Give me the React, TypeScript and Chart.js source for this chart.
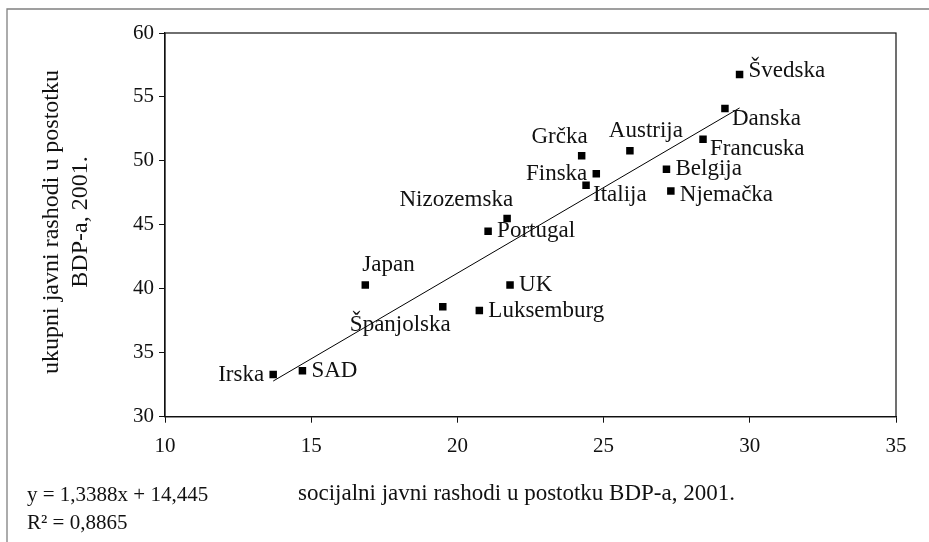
import React, { useEffect, useRef } from "react";
import { Chart, registerables } from "chart.js";

Chart.register(...registerables);

// ---- data ----
const countries = [
  "Irska", "SAD", "Japan", "Španjolska", "Luksemburg", "UK", "Portugal",
  "Nizozemska", "Finska", "Italija", "Grčka", "Austrija", "Švedska",
  "Danska", "Francuska", "Belgija", "Njemačka",
];
const socialSpending = [
  13.7, 14.7, 16.85, 19.5, 20.75, 21.8, 21.05,
  21.7, 24.75, 24.4, 24.25, 25.9, 29.65,
  29.15, 28.4, 27.15, 27.3,
];
const totalSpending = [
  33.3, 33.6, 40.3, 38.6, 38.3, 40.3, 44.5,
  45.5, 49.0, 48.1, 50.4, 50.8, 56.75,
  54.1, 51.7, 49.35, 47.65,
];
const labelPlacement = [
  "left", "right", "above", "belowLeft", "right", "right", "right",
  "aboveLeft", "left", "belowRight", "aboveLeft", "aboveCenter", "rightUp",
  "belowRight", "belowRight", "right", "rightDown",
];
const xTickMin = 10;
const xTickMax = 35;
const yTickMin = 30;
const yTickMax = 60;
const tickStep = 5;
const trendSlope = 1.3388;
const trendIntercept = 14.445;
const equationText = "y = 1,3388x + 14,445";
const r2Text = "R² = 0,8865";
const xTitle = "socijalni javni rashodi u postotku BDP-a, 2001.";
const yTitleLines = ["ukupni javni rashodi u postotku", "BDP-a, 2001."];

const FONT = '"Liberation Serif", "Times New Roman", serif';

const placementStyle: Record<string, { dx: number; dy: number; align: CanvasTextAlign }> = {
  right: { dx: 9, dy: 0, align: "left" },
  rightUp: { dx: 9, dy: -4, align: "left" },
  rightDown: { dx: 9, dy: 4, align: "left" },
  left: { dx: -9, dy: 0, align: "right" },
  above: { dx: -3, dy: -20, align: "left" },
  aboveLeft: { dx: 6, dy: -19, align: "right" },
  aboveCenter: { dx: 16, dy: -20, align: "center" },
  belowLeft: { dx: 8, dy: 18, align: "right" },
  belowRight: { dx: 7, dy: 10, align: "left" },
};

const overlayPlugin = {
  id: "overlay",
  beforeDraw(chart: any) {
    const ctx = chart.ctx;
    ctx.save();
    ctx.fillStyle = "#fff";
    ctx.fillRect(0, 0, chart.width, chart.height);
    ctx.strokeStyle = "#808080";
    ctx.lineWidth = 1.3;
    ctx.beginPath();
    ctx.moveTo(7, chart.height);
    ctx.lineTo(7, 9);
    ctx.lineTo(chart.width, 9);
    ctx.stroke();
    ctx.restore();
  },
  afterDatasetsDraw(chart: any) {
    const ctx = chart.ctx;
    const meta = chart.getDatasetMeta(0);
    ctx.save();
    ctx.font = `23px ${FONT}`;
    ctx.fillStyle = "#111";
    ctx.textBaseline = "middle";
    meta.data.forEach((pt: any, i: number) => {
      const p = placementStyle[labelPlacement[i]] || placementStyle.right;
      ctx.textAlign = p.align;
      ctx.fillText(countries[i], pt.x + p.dx, pt.y + p.dy);
    });
    ctx.restore();
  },
  afterDraw(chart: any) {
    const ctx = chart.ctx;
    const a = chart.chartArea;
    ctx.save();
    ctx.strokeStyle = "#111";
    ctx.lineWidth = 1.2;
    ctx.strokeRect(a.left, a.top, a.right - a.left, a.bottom - a.top);

    ctx.fillStyle = "#111";
    ctx.font = `23px ${FONT}`;
    ctx.textAlign = "left";
    ctx.textBaseline = "alphabetic";
    ctx.fillText(xTitle, 298, 500);

    ctx.font = `21px ${FONT}`;
    ctx.fillText(equationText, 27, 501);
    ctx.fillText(r2Text, 27, 529);

    ctx.font = `24px ${FONT}`;
    ctx.textAlign = "center";
    ctx.textBaseline = "middle";
    const cy = 222;
    const xs = [52, 81];
    yTitleLines.forEach((line, i) => {
      ctx.save();
      ctx.translate(xs[i], cy);
      ctx.rotate(-Math.PI / 2);
      ctx.fillText(line, 0, 0);
      ctx.restore();
    });
    ctx.restore();
  },
};

export default function App() {
  const canvasRef = useRef<HTMLCanvasElement | null>(null);

  useEffect(() => {
    document.body.style.margin = "0";
    const canvas = canvasRef.current;
    if (!canvas) return;
    const xMin = Math.min(...socialSpending);
    const xMax = Math.max(...socialSpending);
    const points = socialSpending.map((x, i) => ({ x, y: totalSpending[i] }));
    const trend = [
      { x: xMin, y: trendSlope * xMin + trendIntercept },
      { x: xMax, y: trendSlope * xMax + trendIntercept },
    ];
    const chart = new Chart(canvas, {
      type: "scatter",
      data: {
        datasets: [
          {
            data: points,
            pointStyle: "rect",
            pointRadius: 5.3,
            pointHoverRadius: 5.3,
            backgroundColor: "#000",
            borderWidth: 0,
          },
          {
            data: trend,
            showLine: true,
            pointRadius: 0,
            borderColor: "#000",
            borderWidth: 1,
          },
        ],
      },
      options: {
        responsive: false,
        animation: false,
        devicePixelRatio: 1,
        layout: { padding: { left: 0, top: 33, right: 33, bottom: 0 } },
        plugins: {
          legend: { display: false },
          tooltip: { enabled: false },
          title: { display: false },
        },
        scales: {
          x: {
            type: "linear",
            min: xTickMin,
            max: xTickMax,
            ticks: {
              stepSize: tickStep,
              color: "#111",
              font: { family: FONT, size: 21 },
              padding: 11,
            },
            grid: {
              drawOnChartArea: false,
              drawTicks: true,
              tickLength: 6,
              color: "#111",
            },
            border: { display: true, color: "#111", width: 1.2 },
            afterFit: (s: any) => {
              s.height = 542 - 416.7;
            },
          },
          y: {
            type: "linear",
            min: yTickMin,
            max: yTickMax,
            ticks: {
              stepSize: tickStep,
              color: "#111",
              font: { family: FONT, size: 21 },
              padding: 5,
            },
            grid: {
              drawOnChartArea: false,
              drawTicks: true,
              tickLength: 6,
              color: "#111",
            },
            border: { display: true, color: "#111", width: 1.2 },
            afterFit: (s: any) => {
              s.width = 165;
            },
          },
        },
      },
      plugins: [overlayPlugin],
    });
    return () => chart.destroy();
  }, []);

  return (
    <canvas
      ref={canvasRef}
      width={929}
      height={542}
      style={{ display: "block", width: 929, height: 542 }}
    />
  );
}
